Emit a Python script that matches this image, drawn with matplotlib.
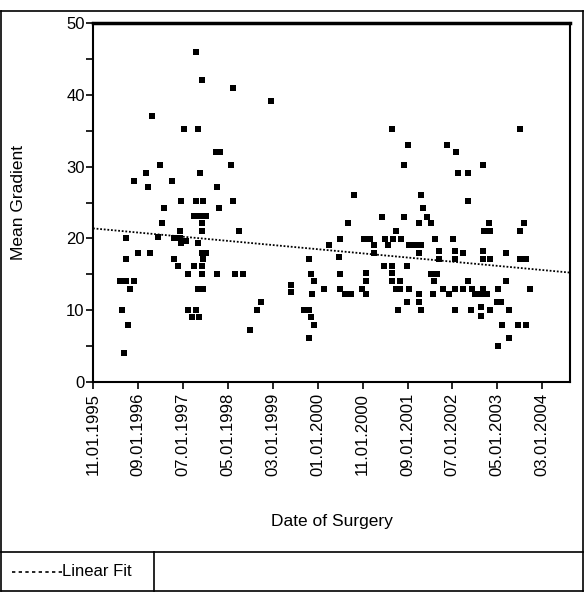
import numpy as np
import pandas as pd
import matplotlib
matplotlib.use("Agg")
import matplotlib.pyplot as plt
import matplotlib.dates as mdates
from matplotlib.lines import Line2D

plt.rcParams['font.family'] = ['Liberation Sans', 'DejaVu Sans']

# Date of surgery as decimal years, and mean gradient
surgery_year = [
    1997.74, 1997.85, 1998.43, 1996.93, 1997.51, 1997.77, 1998.11, 1998.18, 1997.08, 1998.40,
    1996.82, 1997.81, 1996.60, 1997.30, 1996.86, 1998.14, 1997.46, 1997.75, 1997.88, 1998.43,
    1997.15, 1998.17, 1997.71, 1997.81, 1997.92, 1997.85, 1997.11, 1997.85, 1997.45, 1998.54,
    1996.45, 1997.04, 1997.33, 1997.44, 1997.46, 1997.55, 1997.78, 1996.67, 1996.89, 1997.85,
    1997.92, 1996.45, 1997.33, 1997.87, 1997.41, 1997.70, 1997.85, 1997.59, 1997.85, 1998.14,
    1998.47, 1998.62, 1996.33, 1996.44, 1996.60, 1996.52, 1997.77, 1997.88, 1996.37, 1997.59,
    1997.74, 1997.67, 1997.80, 1996.49, 1998.75, 1996.41,
    1999.13, 2001.38, 2001.67, 2001.60, 2000.68, 2001.19, 2001.60, 2000.57, 2001.45, 2000.42,
    2000.86, 2000.97, 2001.24, 2001.39, 2001.54, 2001.70, 2000.20, 2001.04, 2001.04, 2001.30,
    2000.39, 1999.84, 2001.23, 2001.38, 2001.66, 1999.87, 2000.42, 2000.90, 2000.90, 2001.38,
    2001.38, 1999.93, 2001.52, 1999.50, 1999.50, 2000.12, 2000.42, 2000.82, 2001.45, 2001.52,
    2001.70, 1999.90, 2000.51, 2000.62, 2000.90, 1998.95, 2001.66, 1998.88, 1999.75, 1999.84,
    2001.48, 1999.87, 1999.94, 1999.84,
    2003.75, 2002.39, 2002.57, 2003.06, 2002.61, 2002.79, 2001.91, 2002.79, 2001.95, 2002.02,
    2001.88, 2002.10, 2003.17, 2003.83, 2003.09, 2003.20, 2003.75, 2002.17, 2002.50, 2001.80,
    2001.91, 2001.88, 2002.25, 2002.25, 2002.54, 2002.54, 2002.69, 2003.06, 2003.06, 2003.20,
    2003.50, 2003.75, 2003.86, 2002.10, 2002.21, 2002.15, 2002.79, 2003.50, 2001.88, 2002.13,
    2002.32, 2002.43, 2002.54, 2002.69, 2002.87, 2002.91, 2003.03, 2003.14, 2003.06, 2003.35,
    2003.94, 2001.88, 2001.91, 2002.54, 2002.84, 2003.03, 2003.03, 2003.20, 2003.33, 2003.40,
    2003.54, 2003.42, 2003.72, 2003.87, 2003.54, 2003.35,
]
mean_gradient = [
    46.0, 42.1, 41.0, 37.1, 35.2, 35.2, 32.1, 32.1, 30.2, 30.2,
    29.1, 29.1, 28.0, 28.0, 27.1, 27.1, 25.2, 25.2, 25.2, 25.2,
    24.2, 24.2, 23.1, 23.1, 23.1, 22.2, 22.1, 21.1, 21.1, 21.0,
    20.0, 20.2, 20.1, 20.1, 19.3, 19.7, 19.3, 18.0, 18.0, 18.0,
    18.0, 17.2, 17.2, 17.2, 16.1, 16.1, 16.1, 15.0, 15.0, 15.0,
    15.0, 15.0, 14.1, 14.1, 14.1, 13.0, 13.0, 13.0, 10.0, 10.0,
    10.0, 9.1, 9.1, 8.0, 7.2, 4.1,
    39.1, 35.2, 33.0, 30.2, 26.0, 23.0, 23.0, 22.1, 21.0, 19.9,
    19.9, 19.9, 19.9, 19.9, 19.9, 19.1, 19.1, 19.1, 18.0, 19.1,
    17.4, 17.2, 16.1, 16.1, 16.1, 15.0, 15.0, 15.2, 14.1, 15.2,
    14.1, 14.1, 14.1, 13.5, 12.5, 13.0, 13.0, 13.0, 13.0, 13.0,
    13.0, 12.2, 12.2, 12.2, 12.2, 11.1, 11.1, 10.0, 10.0, 10.0,
    10.0, 9.1, 8.0, 6.1,
    35.2, 33.0, 32.1, 30.2, 29.1, 29.1, 26.0, 25.2, 24.2, 23.0,
    22.1, 22.1, 22.1, 22.1, 21.0, 21.0, 21.0, 19.9, 19.9, 19.1,
    19.1, 17.9, 18.3, 17.2, 18.3, 17.2, 18.0, 18.3, 17.2, 17.2,
    18.0, 17.2, 17.2, 15.1, 15.1, 14.1, 14.1, 14.1, 12.2, 12.2,
    13.0, 12.2, 13.0, 13.0, 13.0, 12.2, 12.2, 12.2, 13.0, 13.0,
    13.0, 11.1, 10.0, 10.0, 10.0, 10.4, 9.2, 10.0, 11.1, 11.1,
    10.0, 8.0, 8.0, 8.0, 6.1, 5.0,
]

tick_dates = ['1995-11-01', '1996-09-01', '1997-07-01', '1998-05-01', '1999-03-01',
              '2000-01-01', '2000-11-01', '2001-09-01', '2002-07-01', '2003-05-01',
              '2004-03-01']
x_range = ['1995-11-01', '2004-09-05']
y_ticks = [0, 10, 20, 30, 40, 50]


def year_to_date(y):
    yr = int(np.floor(y))
    start = pd.Timestamp(year=yr, month=1, day=1)
    end = pd.Timestamp(year=yr + 1, month=1, day=1)
    return start + (end - start) * (y - yr)


dates = [year_to_date(y) for y in surgery_year]
xnum = mdates.date2num(dates)
yv = np.array(mean_gradient)

W, H = 584, 592
fig = plt.figure(figsize=(W / 100, H / 100), dpi=100)
fig.patch.set_facecolor('white')

ax = fig.add_axes([93 / W, 1 - 382 / H, (570 - 93) / W, (382 - 23) / H])
ax.plot(xnum, yv, linestyle='none', marker='s', markersize=4.2,
        color='black', markeredgewidth=0)

# linear fit
coef = np.polyfit(xnum, yv, 1)
xl = mdates.date2num(pd.to_datetime(x_range))
xs = np.linspace(xl[0], xl[1], 200)
ax.plot(xs, np.polyval(coef, xs), linestyle=(0, (1, 1)), color='black', linewidth=1.3)

ax.set_xlim(xl[0], xl[1])
ax.set_ylim(0, 50)
ax.set_yticks(y_ticks)
ax.set_yticks(np.arange(5, 50, 10), minor=True)
tk = mdates.date2num(pd.to_datetime(tick_dates))
ax.set_xticks(tk)
ax.set_xticklabels([pd.Timestamp(t).strftime('%m.%d.%Y') for t in tick_dates],
                   rotation=90, fontsize=12)
ax.tick_params(axis='y', labelsize=12, direction='out', length=5, width=1.2, pad=1)
ax.tick_params(axis='y', which='minor', direction='out', length=5, width=1.2)
ax.tick_params(axis='x', direction='out', length=5, width=1.2, pad=3)
for s in ['left', 'right', 'bottom']:
    ax.spines[s].set_linewidth(1.5)
ax.spines['top'].set_linewidth(2.5)
ax.set_ylabel('Mean Gradient', fontsize=12.5)
ax.set_xlabel('Date of Surgery', fontsize=12.5)
ax.yaxis.set_label_coords((26 - 93) / 477, 0.5)
ax.xaxis.set_label_coords((331.5 - 93) / 477, (382 - 514) / 359)

# outer frame and legend panel
def fline(x0, y0, x1, y1, lw=1.2):
    fig.add_artist(Line2D([x0 / W, x1 / W], [1 - y0 / H, 1 - y1 / H],
                          transform=fig.transFigure, color='black', linewidth=lw))

fline(1, 11, 583, 11)
fline(1, 11, 1, 591)
fline(583, 11, 583, 591)
fline(1, 591, 583, 591)
fline(1, 552, 583, 552)
fline(154, 552, 154, 591)

fig.add_artist(Line2D([12 / W, 62 / W], [1 - 572 / H, 1 - 572 / H],
                      transform=fig.transFigure, color='black', linewidth=1.2,
                      linestyle=(0, (2, 2))))
fig.text(62 / W, 1 - 572 / H, 'Linear Fit', fontsize=12, va='center', ha='left')

fig.savefig('out.png', dpi=100)
